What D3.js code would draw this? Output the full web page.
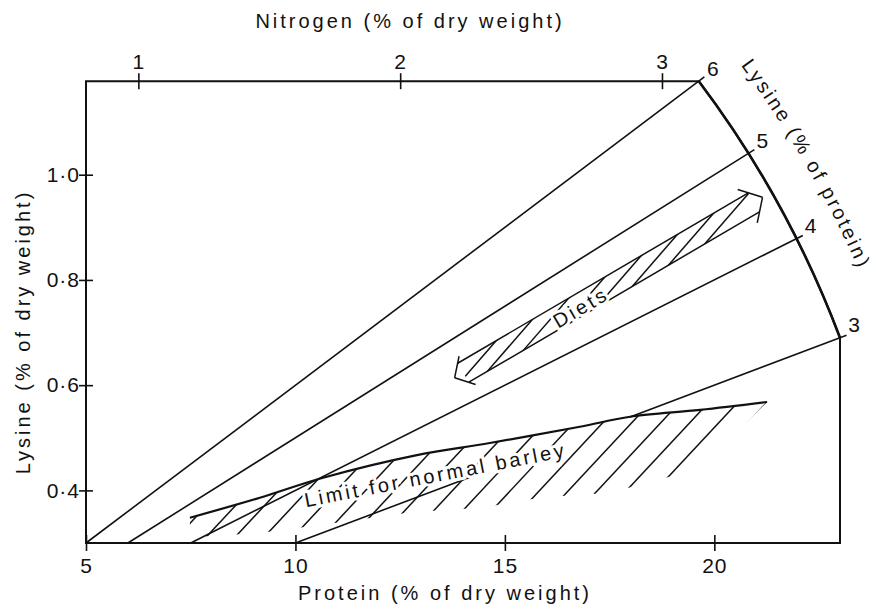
<!DOCTYPE html>
<html>
<head>
<meta charset="utf-8">
<script src="https://cdn.jsdelivr.net/npm/d3@7"></script>
<style>
  body { margin: 0; background: #fff; }
  svg text { font-family: "Liberation Sans", Arial, sans-serif; fill: #111; letter-spacing: 3px; }
</style>
</head>
<body>
<div id="chart"></div>
<script>
// values
const proteinTicks = [5, 10, 15, 20];
const lysineTicks = [0.4, 0.6, 0.8, 1.0];
const nitrogenTicks = [1, 2, 3];
const nitrogenFactor = 6.25;              // protein = N x 6.25
const lysinePercents = [6, 5, 4, 3];      // lysine as % of protein (radial lines)
// the 3% line is only drawn on these protein stretches
const line3Segments = [[10, 14.2], [17.99, 23]];

// "limit for normal barley" band: upper edge and lower (hatch) edge, [protein, lysine]
const barleyUpper = [[7.48, 0.348], [9.15, 0.386], [10.66, 0.424], [12.9, 0.467], [14.64, 0.49],
                     [16.79, 0.521], [17.99, 0.54], [19.66, 0.553], [21.26, 0.568]];
const barleyLower = [[7.48, 0.311], [9.15, 0.319], [10.94, 0.338], [12.81, 0.359], [14.45, 0.367],
                     [15.89, 0.387], [17.44, 0.395], [18.42, 0.414], [19.66, 0.443]];

// "Diets" double arrow, tip to tip
const dietEnds = [[13.8, 0.614], [21.15, 0.957]];

const W = 876, H = 614;
const svg = d3.select("#chart").append("svg").attr("width", W).attr("height", H);

const x = d3.scaleLinear().domain([5, 23]).range([86, 840]);
const y = d3.scaleLinear().domain([0.3, 1.18]).range([543, 80]);

// radial lines all run through protein 0 / lysine 0
const ox = x(0), oy = y(0);
function radial(p) {
    const dx = x(1) - x(0), dy = y(p / 100) - y(0);
    const len = Math.hypot(dx, dy);
    return [dx / len, dy / len];
}
const R = Math.hypot(x(23) - ox, y(0.03 * 23) - oy);
const endOf = p => { const d = radial(p); return [ox + R * d[0], oy + R * d[1]]; };

const e6 = endOf(6), e3 = endOf(3);
const a6 = Math.atan2(e6[1] - oy, e6[0] - ox), a3 = Math.atan2(e3[1] - oy, e3[0] - ox);

// frame: left, top, arc, right, bottom
const frame = d3.path();
frame.moveTo(x(5), y(0.3));
frame.lineTo(x(5), e6[1]);
frame.lineTo(e6[0], e6[1]);
frame.arc(ox, oy, R, a6, a3, false);
frame.lineTo(x(23), y(0.3));
frame.closePath();
svg.append("path").attr("d", frame.toString())
    .attr("fill", "none").attr("stroke", "#111").attr("stroke-width", 2);

const arcOnly = d3.path();
arcOnly.arc(ox, oy, R, a6, a3, false);
svg.append("path").attr("d", arcOnly.toString())
    .attr("fill", "none").attr("stroke", "#111").attr("stroke-width", 2.6);

// radial lines with small tick beyond the arc
const tickOut = 7;
lysinePercents.forEach(p => {
    const d = radial(p);
    const e = endOf(p);
    const pEnd = x.invert(e[0]);
    const segs = p === 3 ? line3Segments : [[30 / p, Infinity]];
    segs.forEach(([a, b]) => {
        const p0 = [x(a), y(a * p / 100)];
        let p1;
        if (b >= pEnd - 0.01) p1 = [e[0] + d[0] * tickOut, e[1] + d[1] * tickOut];
        else p1 = [x(b), y(b * p / 100)];
        svg.append("line")
            .attr("x1", p0[0]).attr("y1", p0[1]).attr("x2", p1[0]).attr("y2", p1[1])
            .attr("stroke", "#111").attr("stroke-width", 1.6);
    });
    svg.append("text")
        .attr("x", e[0] + 14).attr("y", e[1] - 13)
        .attr("text-anchor", "middle").attr("dy", "0.35em")
        .style("font-size", "21px").style("letter-spacing", "0px")
        .text(p);
});

// arc title along the curve
const titleArc = d3.path();
titleArc.arc(ox, oy, R + 43, a6 - 0.06, a3 + 0.06, false);
svg.append("path").attr("id", "arcTitle").attr("d", titleArc.toString()).attr("fill", "none");
svg.append("text").style("font-size", "20px").style("letter-spacing", "2.6px")
    .append("textPath").attr("href", "#arcTitle")
    .attr("startOffset", "45%").attr("text-anchor", "middle")
    .text("Lysine (% of protein)");

// axes
const styleAxis = g => {
    g.select(".domain").remove();
    g.selectAll(".tick line").attr("stroke", "#111").attr("stroke-width", 1.6);
    g.selectAll(".tick text").style("font-size", "21px").style("letter-spacing", "1px").attr("fill", "#111");
};

svg.append("g")
    .attr("transform", `translate(0,${y(0.3)})`)
    .call(d3.axisBottom(x).tickValues(proteinTicks).tickSize(8).tickPadding(7).tickFormat(d3.format("d")))
    .call(styleAxis)
    .call(g => g.selectAll(".tick line").attr("y1", -8));

svg.append("g")
    .attr("transform", `translate(${x(5)},0)`)
    .call(d3.axisLeft(y).tickValues(lysineTicks).tickSize(7).tickPadding(-1)
        .tickFormat(d => d3.format(".1f")(d).replace(".", "·")))
    .call(styleAxis)
    .call(g => g.selectAll(".tick line").attr("x1", 7));

const xN = d3.scaleLinear().domain(x.domain().map(d => d / nitrogenFactor)).range(x.range());
svg.append("g")
    .attr("transform", `translate(0,${e6[1]})`)
    .call(d3.axisTop(xN).tickValues(nitrogenTicks).tickSize(8).tickPadding(4).tickFormat(d3.format("d")))
    .call(styleAxis)
    .call(g => g.selectAll(".tick line").attr("y1", 8));

// axis titles
svg.append("text").attr("x", 410).attr("y", 28).attr("text-anchor", "middle")
    .style("font-size", "20px").text("Nitrogen (% of dry weight)");
svg.append("text").attr("x", 445).attr("y", 600).attr("text-anchor", "middle")
    .style("font-size", "20px").text("Protein (% of dry weight)");
svg.append("text").attr("transform", "translate(30,332) rotate(-90)").attr("text-anchor", "middle")
    .style("font-size", "20px").text("Lysine (% of dry weight)");

// barley band: hatched area below the limit line
const pts = barleyUpper.concat(barleyLower.slice().reverse()).map(d => [x(d[0]), y(d[1])]);
svg.append("clipPath").attr("id", "barleyClip")
    .append("path").attr("d", "M" + pts.join("L") + "Z");

const tip = [x(barleyUpper[barleyUpper.length - 1][0]), y(barleyUpper[barleyUpper.length - 1][1])];
const hAng = 47 * Math.PI / 180;
const hatchBase = 600;
const k0 = tip[0] - (hatchBase - tip[1]) / Math.tan(hAng);
const hatchX = d3.range(-3, 30).map(i => k0 - 29 * i);
svg.append("g").attr("clip-path", "url(#barleyClip)")
    .selectAll("line").data(hatchX).join("line")
    .attr("x1", d => d).attr("y1", hatchBase)
    .attr("x2", d => d + 300 / Math.tan(hAng)).attr("y2", hatchBase - 300)
    .attr("stroke", "#111").attr("stroke-width", 1.5);

// label with a white halo that breaks the hatching
svg.append("text")
    .attr("transform", `translate(${x(10.25)},${y(0.368)}) rotate(-11)`)
    .style("font-size", "20px")
    .attr("stroke", "#fff").attr("stroke-width", 6).attr("paint-order", "stroke")
    .text("Limit for normal barley");

svg.append("path")
    .datum(barleyUpper)
    .attr("d", d3.line().x(d => x(d[0])).y(d => y(d[1])).curve(d3.curveCatmullRom))
    .attr("fill", "none").attr("stroke", "#111").attr("stroke-width", 2.2);

// diets double arrow
const dA = [x(dietEnds[0][0]), y(dietEnds[0][1])], dB = [x(dietEnds[1][0]), y(dietEnds[1][1])];
const dLen = Math.hypot(dB[0] - dA[0], dB[1] - dA[1]);
const u = [(dB[0] - dA[0]) / dLen, (dB[1] - dA[1]) / dLen];
const nrm = [u[1], -u[0]];
const hw = 11;
const at = (s, t) => [dA[0] + u[0] * s + nrm[0] * t, dA[1] + u[1] * s + nrm[1] * t];
const rot = (v, a) => [v[0] * Math.cos(a) - v[1] * Math.sin(a), v[0] * Math.sin(a) + v[1] * Math.cos(a)];

const diets = svg.append("g").attr("stroke", "#111").attr("stroke-width", 1.5).attr("fill", "none");
svg.append("clipPath").attr("id", "dietClip")
    .append("path").attr("d", "M" + [at(10, hw), at(dLen - 10, hw), at(dLen - 10, -hw), at(10, -hw)].join("L") + "Z");
const hv = [Math.cos(-49 * Math.PI / 180), Math.sin(-49 * Math.PI / 180)];
diets.append("g").attr("clip-path", "url(#dietClip)")
    .selectAll("line").data(d3.range(22, dLen, 42)).join("line")
    .attr("x1", s => at(s, 0)[0] - hv[0] * 40).attr("y1", s => at(s, 0)[1] - hv[1] * 40)
    .attr("x2", s => at(s, 0)[0] + hv[0] * 40).attr("y2", s => at(s, 0)[1] + hv[1] * 40);
[hw, -hw].forEach(t => {
    const p0 = at(10, t), p1 = at(dLen - 10, t);
    diets.append("line").attr("x1", p0[0]).attr("y1", p0[1]).attr("x2", p1[0]).attr("y2", p1[1]);
});
const barb = 48 * Math.PI / 180;
[[dA, u, 22], [dB, [-u[0], -u[1]], 26]].forEach(([t, v, L]) => {
    [barb, -barb].forEach(a => {
        const r = rot(v, a);
        diets.append("line").attr("x1", t[0]).attr("y1", t[1])
            .attr("x2", t[0] + r[0] * L).attr("y2", t[1] + r[1] * L);
    });
});
const dc = at(dLen * 0.405, -3);
svg.append("text")
    .attr("transform", `translate(${dc[0]},${dc[1]}) rotate(${Math.atan2(u[1], u[0]) * 180 / Math.PI})`)
    .attr("text-anchor", "middle").attr("dy", "0.35em")
    .style("font-size", "20px")
    .attr("stroke", "#fff").attr("stroke-width", 6).attr("paint-order", "stroke")
    .text("Diets");
</script>
</body>
</html>
